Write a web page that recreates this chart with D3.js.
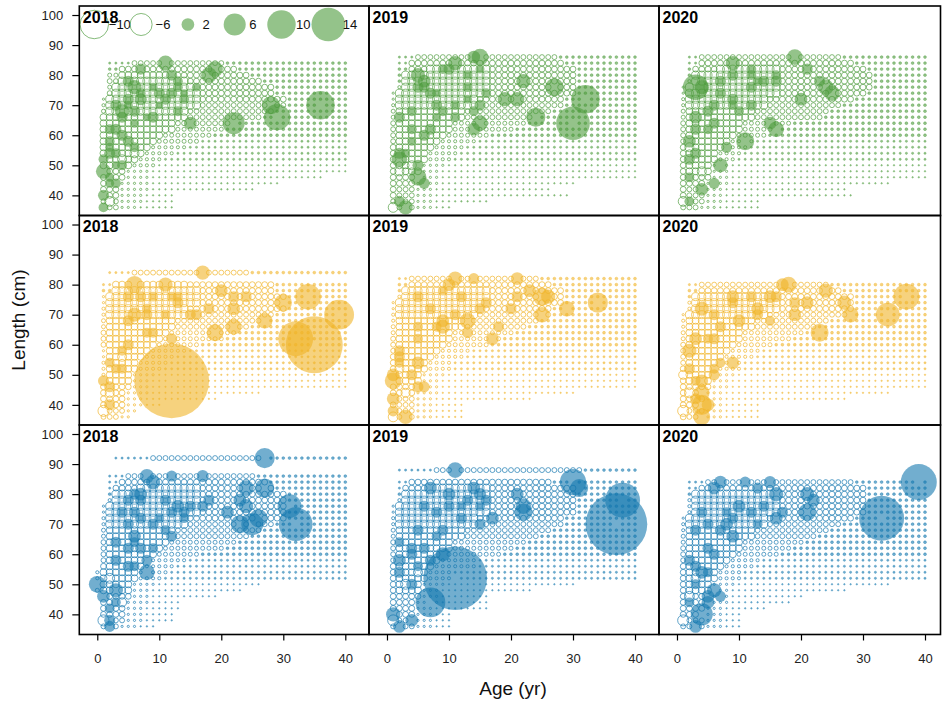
<!DOCTYPE html>
<html><head><meta charset="utf-8">
<script src="https://cdn.jsdelivr.net/npm/d3@7"></script>
<style>body{margin:0;background:#fff;} text{font-family:"Liberation Sans",Arial,sans-serif;}</style>
</head><body><svg id="c" width="942" height="704"></svg>
<script>
// ---------- data ----------
const years = ["2018","2019","2020"];
const fleetColors = ["#4d9b3c","#f0b428","#1478af"];
const xTicks = [0,10,20,30,40];
const yTicks = [40,50,60,70,80,90,100];
const legendValues = [-10,-6,2,6,10,14];
const legendLabels = ["\u221210","\u22126","2","6","10","14"];
// background residual codes (letters = negative, digits = positive)
const codeValues = {"1":0.03,"2":0.06,"3":0.1,"a":-0.03,"b":-0.06,"c":-0.12,"d":-0.2,"e":-0.3,"f":-0.42,"g":-0.6,"h":-0.8,"i":-1.2};

const gridG2018 = [[84,"2-5:2,6-20:e,21-40:3"],[82,"2-3:3,4-22:f,23-40:3"],[80,"2-3:d,4-12:g,13-24:f,25-40:3"],[78,"2-3:e,4-14:h,15-26:f,27-40:3"],[76,"2:d,3-16:h,17-28:f,29-40:3"],[74,"2:e,3-16:h,17-28:f,29-40:3"],[72,"1:b,2-16:h,17-30:f,31-40:3"],[70,"1:c,2-16:h,17-30:e,31-40:3"],[68,"1:d,2-14:h,15-28:e,29-40:3"],[66,"1-14:g,15-26:e,27-40:3"],[64,"1-12:g,13-22:e,23-40:3"],[62,"1-12:g,13-20:d,21-40:3"],[60,"1-10:g,11-18:d,19-40:3"],[58,"1-9:g,10-16:d,17-40:2"],[56,"1-8:g,9-14:c,15-40:2"],[54,"1-7:g,8-12:c,13-40:2"],[52,"1-6:g,7-10:c,11-40:2"],[50,"1-5:g,6-9:c,10-40:1"],[48,"1-4:f,5-8:b,9-40:1"],[46,"1-4:f,5-8:b,9-36:1"],[44,"1-3:f,4-8:b,9-29:1"],[42,"1-3:f,4-8:b,9-25:1"],[40,"1-3:f,4-7:b,8-12:1"],[38,"1-3:e,4-7:b,8-12:1"],[36,"1-3:e,4-6:b,7-12:1"]];
const bubG2018 = [[1,48,2.8],[11,84,2.8],[7,82,1.5],[18,80,3],[19,82,3],[6,76,2.5],[5,78,1.5],[7,74,1.2],[4,68,2.5],[3,70,1.5],[12,80,1.5],[22,64,6],[29,66,8.5],[28,70,4],[36,70,10],[15,64,2],[13,78,1.2],[16,76,1],[8,66,0.8],[11,72,1.5],[2,54,1.5],[1,52,1.2],[1,40,1.5],[1,36,1.2],[2,44,1],[3,62,1.5],[4,60,1.5],[2,58,1.2],[9,76,1],[14,74,0.8],[10,70,0.8],[6,64,1],[2,46,1],[3,50,0.8],[5,70,1],[2,38,-1.2],[4,52,-1],[6,54,-1],
  [5,72,1.5],[7,72,1.8],[4,66,1.5],[5,58,1.5],[6,56,1.2],[3,54,1.2],[10,74,1.5],[12,74,1.5],[13,76,1.2],[14,72,1.2],[9,66,1.5],[10,70,1.2],[13,68,1.2],[6,68,1.5],[2,62,1.2],[2,56,1],[3,44,1.2],[4,50,1.2]];

const gridG2019 = [[86,"2-4:2,5-27:e,28-40:3"],[84,"2-3:2,4-28:f,29-40:3"],[82,"2-3:3,4-6:f,7-16:h,17-30:f,31-40:3"],[80,"2:3,3-16:h,17-30:f,31-40:3"],[78,"2:3,3-16:h,17-30:f,31-40:3"],[76,"2:c,3-16:h,17-30:f,31-40:3"],[74,"1:b,2-16:h,17-30:f,31-40:3"],[72,"1:b,2-14:h,15-28:f,29-40:3"],[70,"1:c,2-14:h,15-28:e,29-40:3"],[68,"1:d,2-12:g,13-26:e,27-40:3"],[66,"1:d,2-12:g,13-24:e,25-40:3"],[64,"1:e,2-10:g,11-22:d,23-40:3"],[62,"1:e,2-10:g,11-20:d,21-40:3"],[60,"1:e,2-9:g,10-16:d,17-40:3"],[58,"1:e,2-8:g,9-14:c,15-40:2"],[56,"1:f,2-7:g,8-12:c,13-40:2"],[54,"1:f,2-6:g,7-11:c,12-40:2"],[52,"1:f,2-6:g,7-10:c,11-40:2"],[50,"1:f,2-5:g,6-9:b,10-40:1"],[48,"1:f,2-5:g,6-8:b,9-40:1"],[46,"1-5:f,6-8:b,9-40:1"],[44,"1-4:f,5-8:b,9-30:1"],[42,"1:f,2-4:e,5-7:b,8-26:1"],[40,"1:f,2-4:e,5-7:b,8-29:1"],[38,"1-4:e,5-7:b,8-16:1"],[36,"1-4:e,5-7:b,8-10:1"]];
const bubG2019 = [[15,86,3.4],[14,86,2],[11,84,2.5],[5,80,2.5],[6,78,2],[6,76,1.5],[10,82,1.5],[22,78,2.5],[27,76,4],[32,72,10],[30,64,14],[24,66,4.5],[19,72,2.5],[21,72,2.5],[15,64,3],[14,62,2],[2,66,1.5],[4,68,1.2],[6,60,1.5],[2,52,3],[5,46,3.5],[3,36,2.5],[2,38,1.5],[4,58,1],[3,54,1],[8,66,1],[8,74,1],[13,72,1],[15,82,1],[16,74,1.2],[1,36,-1.2],[2,48,-1],[4,50,-1],
  [5,76,1.5],[7,74,1.5],[8,70,1.5],[9,68,1.2],[7,62,1.5],[4,62,1.2],[2,54,1.5],[5,50,1.5],[6,44,1.5],[11,70,1.2],[13,76,1.2],[15,70,1.5],[14,68,1.2],[11,66,1.2],[9,82,1.2],[13,80,1.2]];

const gridG2020 = [[86,"2-3:2,4-26:e,27-40:3"],[84,"2-3:2,4-28:f,29-40:3"],[82,"2:3,3-6:f,7-16:h,17-30:f,31-40:3"],[80,"2:3,3-16:h,17-31:f,32-40:3"],[78,"2:c,3-16:h,17-31:f,32-40:3"],[76,"1:b,2-16:h,17-31:f,32-40:3"],[74,"1:b,2-16:h,17-30:f,31-40:3"],[72,"1:c,2-14:h,15-28:f,29-40:3"],[70,"1:c,2-14:h,15-26:e,27-40:3"],[68,"1:d,2-12:g,13-24:e,25-40:3"],[66,"1:d,2-12:g,13-23:e,24-40:3"],[64,"1:e,2-10:g,11-18:d,19-40:3"],[62,"1:e,2-10:g,11-15:d,16-40:3"],[60,"1:e,2-9:g,10-14:d,15-40:3"],[58,"1:e,2-8:g,9-12:c,13-40:2"],[56,"1:f,2-7:g,8-11:c,12-40:2"],[54,"1:f,2-6:g,7-10:c,11-40:2"],[52,"1:f,2-6:g,7-9:c,10-40:2"],[50,"1:f,2-5:g,6-8:b,9-40:1"],[48,"1:f,2-5:g,6-8:b,9-40:1"],[46,"1-5:f,6-8:b,9-40:1"],[44,"1-4:f,5-8:b,9-34:1"],[42,"1:f,2-4:e,5-7:b,8-27:1"],[40,"1:f,2-4:e,5-7:b,8-28:1"],[38,"1-4:e,5-7:b,8-13:1"],[36,"1-3:e,4-6:b,7-13:1"]];
const bubG2020 = [[3,76,8],[4,76,2.5],[19,86,3],[9,84,2.5],[9,80,1.5],[24,76,3],[25,74,3],[23,78,1.5],[21,82,1.5],[20,72,2],[16,62,3],[15,64,2],[11,58,4],[2,58,2],[3,66,2],[6,64,1.5],[7,50,2.5],[4,42,2],[6,44,1.5],[2,38,1.2],[2,52,1.5],[12,76,1.5],[12,80,1.2],[14,78,1.5],[16,80,1.2],[7,74,1.5],[9,70,1.2],[1,38,-1.2],[2,56,-1],[4,48,-1],
  [5,68,1.5],[7,78,1.5],[9,72,1.5],[12,82,1.2],[13,78,1.2],[16,78,1.5],[3,62,1.5],[5,62,1.2],[3,54,1.5],[4,48,1.2],[2,46,1.2],[8,56,1.5],[10,68,1.2],[12,70,1.5],[6,70,1.5]];

const gridY2018 = [[84,"2-5:2,6-24:e,25-40:3"],[80,"1-2:2,3-14:g,15-28:f,29-40:3"],[78,"1-2:3,3-16:h,17-28:f,29-40:3"],[76,"1:b,2-16:h,17-30:f,31-40:3"],[74,"1:b,2-16:h,17-30:f,31-40:3"],[72,"1:c,2-14:h,15-30:f,31-40:3"],[70,"1:c,2-14:h,15-28:e,29-40:3"],[68,"1:d,2-12:g,13-26:e,27-40:3"],[66,"1:d,2-12:g,13-24:e,25-40:3"],[64,"1:e,2-11:g,12-22:d,23-40:3"],[62,"1:e,2-10:g,11-20:d,21-40:3"],[60,"1:e,2-9:g,10-16:d,17-40:3"],[58,"1:b,2-8:g,9-14:c,15-40:2"],[56,"1:b,2-7:g,8-12:c,13-40:2"],[54,"1:c,2-6:g,7-11:c,12-40:2"],[52,"1:c,2-6:g,7-10:c,11-40:2"],[50,"1:c,2-5:g,6-9:b,10-40:1"],[48,"1:c,2-5:g,6-8:b,9-40:1"],[46,"1-5:f,6-8:b,9-40:1"],[44,"1-4:f,5-8:b,9-26:1"],[42,"1-4:f,5-7:b,8-19:1"],[40,"1-4:f,5-7:b,8-10:1"],[38,"1-4:e,5-6:b"],[36,"1-3:e,4-5:b"]];
const bubY2018 = [[12,48,69],[35,60,40],[32,62,15],[39,70,11],[34,76,8],[30,74,3.7],[27,68,3],[17,84,2.5],[6,80,3.7],[11,80,2.5],[19,64,3.5],[22,66,3],[22,72,2],[20,78,2],[22,76,1.5],[24,76,1.5],[6,70,2.5],[5,60,1.5],[1,48,1.5],[2,40,1.5],[3,52,1.2],[8,72,1.2],[13,76,1.2],[15,70,1.5],[9,64,1.2],[1,38,-1.5],[2,44,-1],[4,56,-1],
  [5,76,1.5],[7,76,1.5],[8,70,1.5],[9,76,1.2],[5,68,1.5],[4,58,1.2],[2,54,1.2],[4,52,1.2],[2,46,1.5],[12,76,1.2],[13,74,1.5],[16,70,1.5],[18,72,1.5],[11,70,1.2],[8,64,1.2],[12,62,1.5]];

const gridY2019 = [[82,"2-3:2,4-24:e,25-40:3"],[80,"2-3:3,4-26:f,27-40:3"],[78,"2:3,3-16:h,17-28:f,29-40:3"],[76,"2:c,3-16:h,17-28:f,29-40:3"],[74,"1:b,2-16:h,17-28:f,29-40:3"],[72,"1:b,2-14:h,15-26:f,27-40:3"],[70,"1:c,2-14:h,15-26:e,27-40:3"],[68,"1:c,2-12:g,13-24:e,25-40:3"],[66,"1:d,2-12:g,13-22:e,23-40:3"],[64,"1:d,2-10:g,11-20:d,21-40:3"],[62,"1:e,2-10:g,11-18:d,19-40:3"],[60,"1:e,2-9:g,10-16:d,17-40:3"],[58,"1:e,2-8:g,9-13:c,14-40:2"],[56,"1:f,2-7:g,8-12:c,13-40:2"],[54,"1:f,2-6:g,7-10:c,11-40:2"],[52,"1:f,2-6:g,7-10:c,11-40:2"],[50,"1:f,2-5:g,6-9:b,10-40:1"],[48,"1:f,2-5:g,6-8:b,9-40:1"],[46,"1-5:f,6-8:b,9-40:1"],[44,"1-4:f,5-8:b,9-30:1"],[42,"1:f,2-4:e,5-7:b,8-23:1"],[40,"1:f,2-4:e,5-7:b,8-12:1"],[38,"1-4:e,5-7:b,8-12:1"],[36,"1-4:e,5-7:b,8-12:1"]];
const bubY2019 = [[34,74,5],[29,72,3],[25,76,4],[25,70,3],[23,78,2],[26,76,2.5],[21,82,2],[11,82,2.5],[10,80,2],[14,82,1.5],[13,68,3],[9,66,2.5],[9,68,2],[17,62,2],[15,72,1.5],[16,74,1.5],[1,48,3.5],[1,50,2],[3,36,2.5],[2,58,1.5],[1,42,2],[1,38,1.5],[5,54,2],[6,46,1.5],[5,66,1.2],[1,36,-1.2],[3,44,-1],[2,52,-1],
  [5,76,1.5],[7,72,1.5],[8,66,1.2],[11,70,1.5],[5,62,1.2],[2,56,1.5],[4,50,1.5],[2,54,1.2],[5,46,1.5],[12,76,1.5],[13,64,1.5],[18,66,1.5],[20,72,1.5],[21,76,1.5],[9,78,1.2]];

const gridY2020 = [[80,"2-3:2,4-24:e,25-40:3"],[78,"2-3:3,4-26:f,27-40:3"],[76,"2:3,3-16:h,17-28:f,29-40:3"],[74,"2:c,3-16:h,17-28:f,29-40:3"],[72,"2:c,3-16:h,17-28:f,29-40:3"],[70,"1:b,2-14:h,15-28:e,29-40:3"],[68,"1:c,2-12:g,13-24:e,25-40:3"],[66,"1:c,2-12:g,13-22:e,23-40:3"],[64,"1:d,2-10:g,11-20:d,21-40:3"],[62,"1:d,2-10:g,11-18:d,19-40:3"],[60,"1:e,2-9:g,10-15:d,16-40:3"],[58,"1:e,2-8:g,9-13:c,14-40:2"],[56,"1:e,2-7:g,8-12:c,13-40:2"],[54,"1:e,2-6:g,7-10:c,11-40:2"],[52,"1:f,2-6:g,7-10:c,11-40:2"],[50,"1:f,2-5:g,6-9:b,10-40:1"],[48,"1:f,2-5:g,6-8:b,9-40:1"],[46,"1-5:f,6-8:b,9-40:1"],[44,"1-4:f,5-7:b,8-34:1"],[42,"1-4:f,5-7:b,8-27:1"],[40,"1-4:f,5-7:b,8-13:1"],[38,"1:f,2-4:e,5-7:b,8-13:1"],[36,"1:f,2-4:e,5-7:b,8-13:1"]];
const bubY2020 = [[37,76,8.3],[34,70,7],[23,64,4],[28,70,3],[27,74,2.5],[24,78,2.5],[18,80,3],[17,80,2],[21,74,2],[19,70,2],[15,76,2],[13,72,2],[4,72,2.5],[10,68,2],[9,76,2],[3,62,2],[2,58,2.5],[6,62,1.5],[4,40,5],[4,44,3],[4,36,3.5],[4,48,2],[2,52,1.5],[9,54,2],[6,52,1.2],[1,38,-1.5],[2,44,-1.2],[1,50,-1],
  [6,70,1.5],[7,66,1.5],[5,62,1.2],[7,54,1.2],[9,74,1.5],[12,76,1.5],[13,70,1.5],[15,68,1.2],[16,76,1.5],[19,74,1.5],[6,50,1.5],[3,48,1.2],[5,40,2],[3,42,1.5]];

const gridB2018 = [[92,"3-8:2,9-26:e,27-40:3"],[86,"2-4:2,5-25:e,26-40:3"],[84,"2-3:2,4-27:f,28-40:3"],[82,"2:2,3-6:f,7-16:h,17-28:f,29-40:3"],[80,"2:3,3-16:h,17-30:f,31-40:3"],[78,"2:c,3-16:h,17-30:f,31-40:3"],[76,"1:b,2-16:h,17-30:f,31-40:3"],[74,"1:b,2-16:h,17-30:f,31-40:3"],[72,"1:c,2-14:h,15-30:f,31-40:3"],[70,"1:c,2-14:h,15-28:e,29-40:3"],[68,"1:d,2-12:g,13-26:e,27-40:3"],[66,"1:d,2-12:g,13-24:e,25-40:3"],[64,"1:e,2-11:g,12-22:d,23-40:3"],[62,"1:e,2-10:g,11-20:d,21-40:3"],[60,"1:e,2-9:g,10-16:d,17-40:3"],[58,"1:e,2-8:g,9-14:c,15-40:2"],[56,"1:f,2-7:g,8-12:c,13-40:2"],[54,"0:c,1-6:g,7-11:c,12-40:2"],[52,"0:c,1-6:g,7-10:c,11-40:2"],[50,"0:d,1-5:g,6-9:b,10-26:1"],[48,"0:d,1-5:g,6-8:b,9-23:1"],[46,"1-5:f,6-8:b,9-19:1"],[44,"1-4:f,5-8:b,9-13:1"],[42,"1-4:f,5-7:b,8-13:1"],[40,"1-4:f,5-7:b,8-12:1"],[38,"1-4:e,5-7:b,8-12:1"],[36,"1-3:e,4-6:b,7-9:1"]];
const bubB2018 = [[32,70,14],[31,76,7],[27,92,5],[27,82,4.5],[24,82,3],[25,70,6],[23,70,4],[26,72,4],[24,76,2.5],[23,78,2],[21,74,2],[8,86,2.5],[9,84,2.5],[12,86,1.5],[17,86,1.8],[8,54,3],[0,50,3.5],[1,46,2],[3,48,2.5],[2,38,1.5],[2,36,1.5],[7,80,2],[7,78,1.5],[5,70,1.5],[6,66,2],[13,76,2],[15,76,1.5],[18,78,1.5],[11,78,1.5],[9,70,1.5],[3,64,1.5],[5,56,1.5],[1,38,-1.5],[2,52,-1.2],[4,44,-1],
  [5,78,1.5],[6,80,1.5],[4,74,1.5],[6,74,1.5],[7,72,1.5],[5,62,1.5],[6,64,1.2],[3,58,1.5],[6,56,1.2],[7,62,1.5],[9,62,1.2],[12,74,1.5],[14,74,1.5],[14,72,1.2],[17,76,1.5],[12,66,1.5],[11,68,1.2],[10,72,1.2],[8,58,1.5],[3,44,1.2],[2,42,1.2]];

const gridB2019 = [[88,"2-7:2,8-31:e,32-40:3"],[84,"2-3:2,4-26:f,27-40:3"],[82,"2:2,3-6:f,7-16:h,17-30:f,31-40:3"],[80,"2:3,3-16:h,17-30:f,31-40:3"],[78,"2:c,3-16:h,17-30:f,31-40:3"],[76,"1:b,2-16:h,17-30:f,31-40:3"],[74,"1:b,2-16:h,17-30:f,31-40:3"],[72,"1:c,2-14:h,15-28:f,29-40:3"],[70,"1:c,2-14:h,15-28:e,29-40:3"],[68,"1:d,2-12:g,13-26:e,27-40:3"],[66,"1:d,2-12:g,13-24:e,25-40:3"],[64,"1:e,2-10:g,11-22:d,23-40:3"],[62,"1:e,2-10:g,11-20:d,21-40:3"],[60,"1:e,2-9:g,10-18:d,19-40:3"],[58,"1:e,2-8:g,9-14:c,15-40:2"],[56,"1:f,2-7:g,8-14:c,15-40:2"],[54,"1:f,2-6:g,7-10:c,11-40:2"],[52,"1:f,2-6:g,7-10:c,11-40:2"],[50,"1:f,2-5:g,6-9:b,10-30:1"],[48,"1:f,2-5:g,6-8:b,9-23:1"],[46,"1-5:f,6-8:b,9-16:1"],[44,"1-4:f,5-8:b,9-16:1"],[42,"1-4:f,5-7:b,8-16:1"],[40,"1-4:f,5-7:b,8-10:1"],[38,"1-4:e,5-7:b,8-10:1"],[36,"1-4:e,5-7:b,8-10:1"]];
const bubB2019 = [[11,52,50],[37,70,47],[38,78,15],[30,84,8.5],[31,82,4],[22,74,3.7],[22,76,3],[21,80,2],[11,88,3],[7,44,11],[1,40,2.5],[2,36,2],[4,38,2],[9,60,2.5],[7,82,2],[10,80,2],[14,82,2],[15,80,1.8],[17,72,2],[15,70,1.5],[2,58,2],[4,60,1.5],[7,58,1.5],[2,64,1.2],[1,38,-1.5],[3,50,-1.2],[5,54,-1],
  [6,76,1.5],[8,74,1.5],[10,76,1.5],[12,76,1.2],[13,78,1.5],[12,72,1.5],[9,68,1.5],[8,66,1.2],[5,68,1.5],[4,62,1.5],[2,54,1.5],[4,50,1.5],[5,56,1.2],[6,62,1.5],[16,78,1.5],[15,76,1.2]];

const gridB2020 = [[84,"2-4:2,5-28:e,29-40:3"],[82,"2-3:2,4-30:f,31-40:3"],[80,"2:3,3-16:h,17-30:f,31-40:3"],[78,"2:c,3-16:h,17-30:f,31-40:3"],[76,"2:c,3-16:h,17-30:f,31-40:3"],[74,"2:c,3-16:h,17-30:f,31-40:3"],[72,"1:b,2-14:h,15-28:f,29-40:3"],[70,"1:c,2-14:h,15-26:e,27-40:3"],[68,"1:c,2-12:g,13-24:e,25-40:3"],[66,"1:d,2-12:g,13-22:e,23-40:3"],[64,"1:d,2-10:g,11-20:d,21-40:3"],[62,"1:e,2-10:g,11-18:d,19-40:3"],[60,"1:e,2-9:g,10-16:d,17-40:3"],[58,"1:e,2-8:g,9-13:c,14-40:2"],[56,"1:f,2-7:g,8-12:c,13-40:2"],[54,"1:f,2-6:g,7-10:c,11-40:2"],[52,"1:f,2-6:g,7-10:c,11-40:2"],[50,"1:f,2-5:g,6-9:b,10-34:1"],[48,"1:f,2-5:g,6-8:b,9-27:1"],[46,"1-5:f,6-8:b,9-20:1"],[44,"1-4:f,5-8:b,9-18:1"],[42,"1-4:f,5-7:b,8-14:1"],[40,"1-4:f,5-7:b,8-10:1"],[38,"1:f,2-4:e,5-7:b,8-10:1"],[36,"1-4:e,5-7:b,8-10:1"]];
const bubB2020 = [[39,84,16],[33,72,25],[21,74,3.7],[21,80,2.5],[22,78,2],[7,84,2],[6,82,2],[11,84,1.5],[15,84,1.8],[16,80,2.5],[13,82,1.5],[10,76,2],[16,72,2],[17,74,1.5],[8,70,2],[9,66,2],[2,58,1.5],[3,68,1.5],[6,48,2.5],[5,46,2],[4,40,6],[3,36,2],[5,44,2],[4,54,2],[6,60,1.5],[1,38,-1.5],[2,46,-1.2],[3,52,-1],
  [4,74,1.5],[5,70,1.5],[7,68,1.5],[9,72,1.5],[8,74,1.2],[12,74,1.5],[13,70,1.2],[14,76,1.5],[5,62,1.5],[3,56,1.5],[5,54,1.2],[3,50,1.2],[7,46,1.5],[2,44,1.2]];

const panelGrids = [[gridG2018,gridG2019,gridG2020],[gridY2018,gridY2019,gridY2020],[gridB2018,gridB2019,gridB2020]];
const panelBubbles = [[bubG2018,bubG2019,bubG2020],[bubY2018,bubY2019,bubY2020],[bubB2018,bubB2019,bubB2020]];

// ---------- layout ----------
const colLeft = [79.3, 369, 659], colRight = [369, 659, 940.5];
const rowTop = [6, 215.5, 425], rowBottom = [215.5, 425, 634.5];
const xDomain = [-2.9, 43.87], yDomain = [33.3, 103];
const r = d3.scaleSqrt().domain([0, 1]).range([0, 4.5]);
const FILL_OP = 0.6, STROKE_OP = 0.68;

const svg = d3.select("#c");
const defs = svg.append("defs");

function expand(grid) {
  const cells = [];
  grid.forEach(([len, spec]) => spec.split(",").forEach(seg => {
    const [rng, code] = seg.split(":");
    const parts = rng.split("-").map(Number);
    const a = parts[0], b = parts.length > 1 ? parts[1] : parts[0];
    for (let age = a; age <= b; age++) cells.push({age, len, v: codeValues[code]});
  }));
  return cells;
}

function drawCircle(g, cx, cy, v, color) {
  const c = g.append("circle").attr("cx", cx).attr("cy", cy).attr("r", r(Math.abs(v)));
  if (v < 0) {
    c.attr("fill", "none").attr("stroke", color).attr("stroke-opacity", STROKE_OP).attr("stroke-width", 1);
  } else {
    c.attr("fill", color).attr("fill-opacity", FILL_OP);
    if (r(v) < 2) c.attr("stroke", color).attr("stroke-opacity", FILL_OP).attr("stroke-width", 0.6);
  }
}

for (let ri = 0; ri < 3; ri++) {
  for (let ci = 0; ci < 3; ci++) {
    const color = fleetColors[ri];
    const x = d3.scaleLinear().domain(xDomain).range([colLeft[ci], colLeft[ci] + 290]);
    const y = d3.scaleLinear().domain(yDomain).range([rowBottom[ri], rowTop[ri]]);
    const id = "clip" + ri + ci;
    defs.append("clipPath").attr("id", id).append("rect")
      .attr("x", colLeft[ci]).attr("y", rowTop[ri])
      .attr("width", colRight[ci] - colLeft[ci]).attr("height", rowBottom[ri] - rowTop[ri]);
    const g = svg.append("g").attr("clip-path", `url(#${id})`);
    const seen = new Set();
    const bubbles = panelBubbles[ri][ci].filter(b => {
      const k = b[0] + "_" + b[1];
      if (seen.has(k)) return false;
      seen.add(k); return true;
    });
    expand(panelGrids[ri][ci]).forEach(d => {
      if (seen.has(d.age + "_" + d.len)) return;
      drawCircle(g, x(d.age), y(d.len), d.v, color);
    });
    bubbles.forEach(b => drawCircle(g, x(b[0]), y(b[1]), b[2], color));

    // legend in first panel
    if (ri === 0 && ci === 0) {
      legendValues.forEach((v, i) => {
        const cx = 94.3 + 46.8 * i;
        drawCircle(g, cx, 24.5, v, color);
        g.append("text").attr("x", cx + 14.5).attr("y", 29)
          .attr("font-size", 13).attr("fill", "#111").text(legendLabels[i]);
      });
    }
    // panel title
    svg.append("text").attr("x", colLeft[ci] + 3.5).attr("y", rowTop[ri] + 16.5)
      .attr("font-size", 16).attr("font-weight", "bold").attr("fill", "#000").text(years[ci]);
    // frame
    svg.append("rect").attr("x", colLeft[ci]).attr("y", rowTop[ri])
      .attr("width", colRight[ci] - colLeft[ci]).attr("height", rowBottom[ri] - rowTop[ri])
      .attr("fill", "none").attr("stroke", "#000").attr("stroke-width", 1.6);

    if (ci === 0) {
      const ax = svg.append("g").attr("transform", `translate(${colLeft[0]},0)`)
        .call(d3.axisLeft(y).tickValues(yTicks).tickSize(7).tickPadding(9));
      ax.select(".domain").remove();
      ax.selectAll("line").attr("stroke", "#000").attr("stroke-width", 1.2);
      ax.selectAll("text").attr("font-size", 13).attr("fill", "#222")
        .attr("font-family", "Liberation Sans, Arial, sans-serif");
    }
    if (ri === 2) {
      const ax = svg.append("g").attr("transform", `translate(0,${rowBottom[2]})`)
        .call(d3.axisBottom(x).tickValues(xTicks).tickSize(6).tickPadding(13));
      ax.select(".domain").remove();
      ax.selectAll("line").attr("stroke", "#000").attr("stroke-width", 1.2);
      ax.selectAll("text").attr("font-size", 13).attr("fill", "#222")
        .attr("font-family", "Liberation Sans, Arial, sans-serif");
    }
  }
}

svg.append("text").attr("x", 513).attr("y", 695).attr("text-anchor", "middle")
  .attr("font-size", 19).attr("fill", "#111").text("Age (yr)");
svg.append("text").attr("transform", "translate(25,320) rotate(-90)").attr("text-anchor", "middle")
  .attr("font-size", 19).attr("fill", "#111").text("Length (cm)");
</script>
</body></html>
